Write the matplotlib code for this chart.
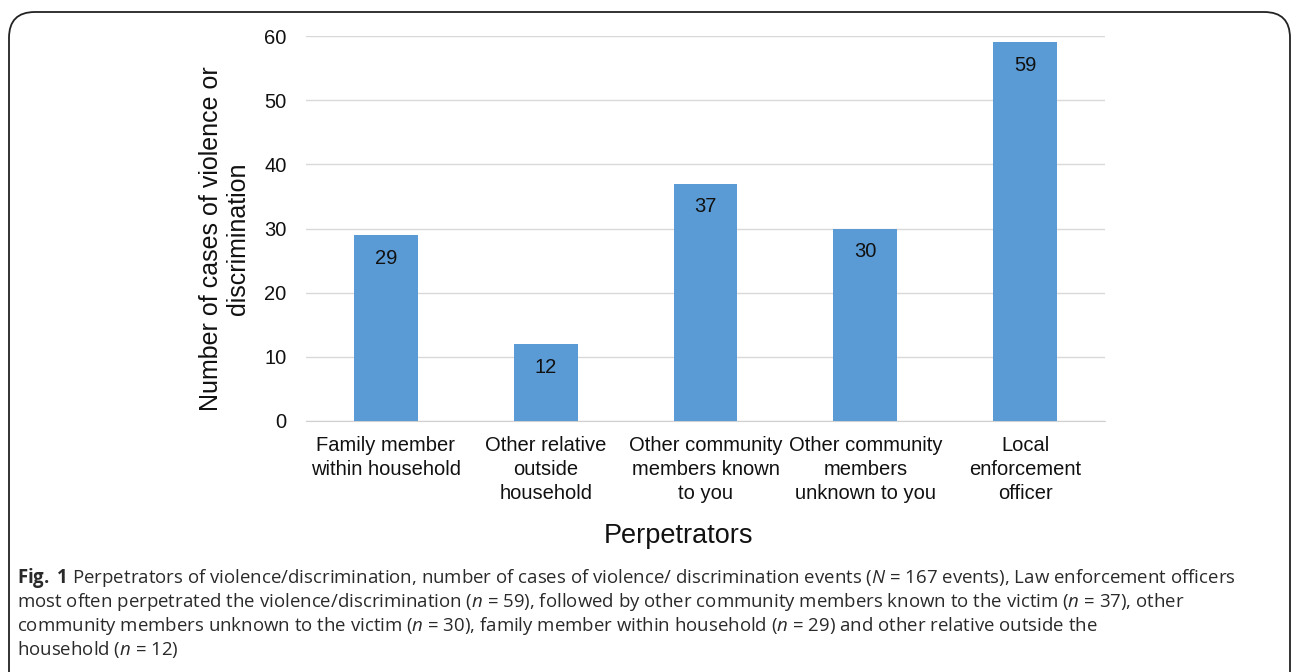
import matplotlib
matplotlib.use("Agg")
import matplotlib.pyplot as plt
from matplotlib.patches import FancyBboxPatch
from matplotlib import font_manager

categories = ["Family member\nwithin household", "Other relative\noutside\nhousehold",
              "Other community\nmembers known\nto you", "Other community\nmembers\nunknown to you",
              "Local\nenforcement\nofficer"]
values = [29, 12, 37, 30, 59]
yticks = [0, 10, 20, 30, 40, 50, 60]

names = {f.name for f in font_manager.fontManager.ttflist}
cap_font = "Liberation Sans Narrow" if "Liberation Sans Narrow" in names else "Open Sans"

plt.rcParams['font.family'] = ['Liberation Sans', 'DejaVu Sans']
plt.rcParams['mathtext.fontset'] = 'custom'
plt.rcParams['mathtext.it'] = cap_font + ':italic'
plt.rcParams['mathtext.bf'] = cap_font + ':bold'
plt.rcParams['mathtext.rm'] = cap_font

W, H = 1292, 672
fig = plt.figure(figsize=(W / 100, H / 100), dpi=100)
ax = fig.add_axes([306 / W, 1 - 421 / H, (1105 - 306) / W, (421 - 36) / H])

x = range(len(categories))
ax.bar(x, values, width=0.4, color='#5B9BD5', zorder=3)
for xi, v in zip(x, values):
    ax.annotate(str(v), (xi, v), xytext=(0, -10), textcoords='offset points',
                ha='center', va='top', fontsize=14.5, color='#111111')

ax.set_xlim(-0.5, 4.5)
ax.set_ylim(0, 60)
ax.set_yticks(yticks)
ax.set_xticks(list(x))
ax.set_xticklabels(categories, fontsize=14.5, linespacing=1.33)
ax.tick_params(axis='both', length=0, labelsize=14.5, colors='#111111')
ax.tick_params(axis='x', pad=11)
ax.tick_params(axis='y', pad=14)
ax.grid(axis='y', color='#D9D9D9', linewidth=1, zorder=0)
for s in ['top', 'right', 'left']:
    ax.spines[s].set_visible(False)
ax.spines['bottom'].set_color('#D0D0D0')
ax.set_axisbelow(True)

ax.set_ylabel("Number of cases of violence or\ndiscrimination", fontsize=18, color='#111111',
              linespacing=1.15)
ax.yaxis.set_label_coords((250 - 306) / (1105 - 306), 0.5 - 10 / 385)
ax.set_xlabel("Perpetrators", fontsize=19.5, color='#111111')
ax.xaxis.set_label_coords((678 - 306) / (1105 - 306), -(523 - 421) / (421 - 36))

# rounded border
box = FancyBboxPatch((9 / W, -0.1), (1290 - 9) / W, (1 - 12 / H) + 0.1,
                     boxstyle="round,pad=0,rounding_size=0.02",
                     transform=fig.transFigure, fill=False, edgecolor='#222222',
                     linewidth=1.3, mutation_aspect=W / H)
fig.patches.append(box)

cap_lines = [
    r"$\bf{Fig.}$ $\bf{1}$ Perpetrators of violence/discrimination, number of cases of violence/ discrimination events ($\it{N}$ = 167 events), Law enforcement officers",
    r"most often perpetrated the violence/discrimination ($\it{n}$ = 59), followed by other community members known to the victim ($\it{n}$ = 37), other",
    r"community members unknown to the victim ($\it{n}$ = 30), family member within household ($\it{n}$ = 29) and other relative outside the",
    r"household ($\it{n}$ = 12)",
]
for i, line in enumerate(cap_lines):
    fig.text(17 / W, 1 - (578 + 24 * i) / H, line, fontsize=13.4, family=cap_font,
             color='#2a2a2a', va='center', ha='left')

fig.savefig("out.png", dpi=100)
